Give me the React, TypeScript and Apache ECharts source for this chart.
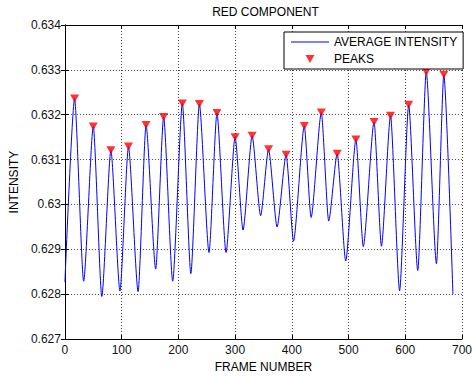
import React, { useEffect, useRef } from 'react';
import * as echarts from 'echarts';

const titleText = 'RED COMPONENT';
const xAxisName = 'FRAME NUMBER';
const yAxisName = 'INTENSITY';
const lineName = 'AVERAGE INTENSITY';
const peakName = 'PEAKS';

// peaks (local maxima) of the average intensity, marked with red triangles
const peakFrames = [17, 50, 81, 112, 143, 174, 207, 237, 268, 300, 330, 359, 390, 422, 452, 480, 513, 545, 574, 606, 637, 668];
const peakValues = [0.63236, 0.63174, 0.63121, 0.63129, 0.63177, 0.63195, 0.63225, 0.63224, 0.63204, 0.6315, 0.63153, 0.63123, 0.63111, 0.63175, 0.63205, 0.63113, 0.63145, 0.63184, 0.63198, 0.63222, 0.63295, 0.63289];

// valleys of the curve (first and last entries are the curve's start and end)
const valleyFrames = [0, 33, 65, 97, 129, 160, 190, 222, 254, 284, 314, 345, 374, 403, 434, 465, 495, 526, 558, 590, 622, 655, 684];
const valleyValues = [0.62827, 0.62829, 0.62795, 0.62807, 0.62806, 0.62856, 0.62829, 0.62846, 0.62893, 0.62893, 0.62943, 0.62975, 0.6295, 0.62918, 0.62971, 0.62963, 0.62874, 0.62906, 0.62907, 0.62808, 0.62853, 0.62868, 0.628];

const xMin = 0;
const xMax = 700;
const xStep = 100;
const yMin = 0.627;
const yMax = 0.634;
const yStep = 0.001;

const FONT = "'Liberation Sans', Arial, Helvetica, sans-serif";

export default function App() {
  const ref = useRef<HTMLDivElement>(null);
  useEffect(() => {
    if (!ref.current) return;
    const chart = echarts.init(ref.current, undefined, { renderer: 'svg' });
    const linePts = [
      ...peakFrames.map((f, i) => [f, peakValues[i]]),
      ...valleyFrames.map((f, i) => [f, valleyValues[i]]),
    ].sort((a, b) => a[0] - b[0]);
    const peakPts = peakFrames.map((f, i) => [f, peakValues[i]]);
    const fmtY = (v: number) => String(parseFloat(v.toFixed(3)));
    const gridLine = { show: true, lineStyle: { color: '#444', type: [1, 2], width: 1 } };
    const tick = { show: true, inside: true, length: 4, lineStyle: { color: '#000' } };
    const axisLine = { show: true, lineStyle: { color: '#000', width: 1 } };
    const label = { color: '#111', fontSize: 12, fontFamily: FONT };
    chart.setOption({
      animation: false,
      backgroundColor: '#fff',
      textStyle: { fontFamily: FONT },
      title: {
        text: titleText,
        left: 265.5,
        top: 6,
        padding: 0,
        textAlign: 'center',
        textStyle: { fontSize: 12, fontWeight: 'normal', color: '#000', fontFamily: FONT },
      },
      legend: {
        left: 284,
        top: 32,
        orient: 'vertical',
        align: 'left',
        padding: [4, 6, 4, 7],
        itemGap: 5,
        itemWidth: 38,
        itemHeight: 8,
        itemTextGap: 3,
        symbolRotate: 0,
        borderColor: '#000',
        borderWidth: 1,
        borderRadius: 0,
        backgroundColor: '#fff',
        textStyle: { fontSize: 12, color: '#000', fontFamily: FONT },
        data: [
          { name: lineName, icon: 'path://M0,0M0,3.5L38,3.5L38,4.5L0,4.5ZM38,8' },
          { name: peakName, icon: 'path://M0,0M14.5,0L23.5,0L19,8ZM38,8' },
        ],
      },
      grid: { left: 63, right: 7, top: 25, bottom: 34, containLabel: false },
      xAxis: [
        {
          type: 'value',
          min: xMin,
          max: xMax,
          interval: xStep,
          position: 'bottom',
          name: xAxisName,
          nameLocation: 'middle',
          nameGap: 18,
          nameTextStyle: { fontSize: 12, color: '#000', fontFamily: FONT },
          axisLine,
          axisTick: tick,
          axisLabel: { ...label, margin: 5 },
          splitLine: gridLine,
        },
        {
          type: 'value',
          min: xMin,
          max: xMax,
          interval: xStep,
          position: 'top',
          axisLine,
          axisTick: tick,
          axisLabel: { show: false },
          splitLine: { show: false },
        },
      ],
      yAxis: [
        {
          type: 'value',
          min: yMin,
          max: yMax,
          interval: yStep,
          position: 'left',
          name: yAxisName,
          nameLocation: 'middle',
          nameGap: 42,
          nameTextStyle: { fontSize: 12, color: '#000', fontFamily: FONT },
          axisLine,
          axisTick: tick,
          axisLabel: { ...label, margin: 4, formatter: fmtY },
          splitLine: gridLine,
        },
        {
          type: 'value',
          min: yMin,
          max: yMax,
          interval: yStep,
          position: 'right',
          axisLine,
          axisTick: tick,
          axisLabel: { show: false },
          splitLine: { show: false },
        },
      ],
      series: [
        {
          name: lineName,
          type: 'line',
          data: linePts,
          showSymbol: false,
          symbol: 'none',
          smooth: 0.22,
          smoothMonotone: 'x',
          lineStyle: { color: '#0000ff', width: 1 },
          itemStyle: { color: '#0000ff' },
          z: 2,
        },
        {
          name: peakName,
          type: 'scatter',
          data: peakPts,
          symbol: 'triangle',
          symbolRotate: 180,
          symbolSize: [9, 8],
          itemStyle: { color: '#ff0000' },
          z: 3,
        },
      ],
    });
    return () => chart.dispose();
  }, []);
  return (
    <div
      ref={ref}
      style={{ position: 'absolute', left: 0, top: 0, width: 475, height: 378, background: '#fff' }}
    />
  );
}
